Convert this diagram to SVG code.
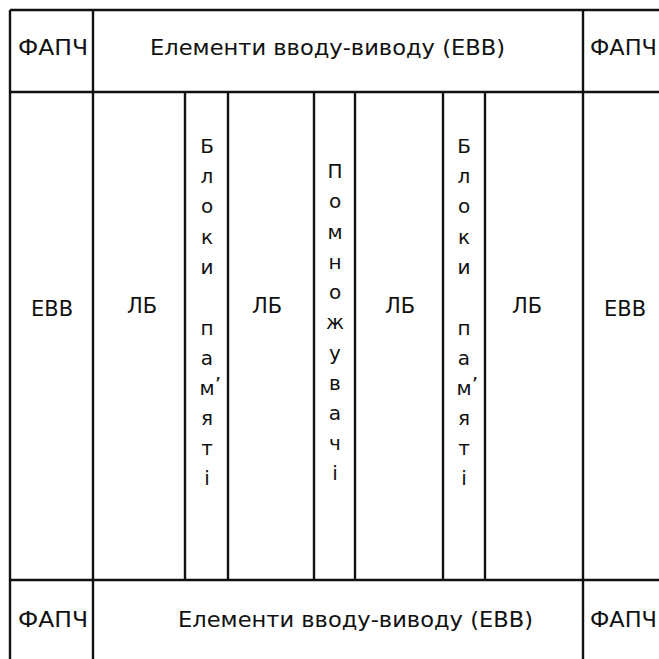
<svg xmlns="http://www.w3.org/2000/svg" width="659" height="659" viewBox="0 0 659 659">
<style>
.ln{stroke:#111;stroke-width:2.4;fill:none}
.t{font-family:"DejaVu Sans","Liberation Sans",sans-serif;font-size:21px;fill:#111}
.v{font-family:"DejaVu Sans","Liberation Sans",sans-serif;font-size:20px;fill:#111;text-anchor:middle}
.m{text-anchor:middle}
</style>
<rect width="659" height="659" fill="#fff"/>
<g id="connectors">
<line class="ln" x1="10" y1="10" x2="659" y2="10"/>
<line class="ln" x1="10" y1="10" x2="10" y2="659"/>
<line class="ln" x1="93" y1="10" x2="93" y2="659"/>
<line class="ln" x1="583" y1="10" x2="583" y2="659"/>
<line class="ln" x1="10" y1="92" x2="659" y2="92"/>
<line class="ln" x1="10" y1="580" x2="659" y2="580"/>
<line class="ln" x1="185" y1="92" x2="185" y2="580"/>
<line class="ln" x1="228" y1="92" x2="228" y2="580"/>
<line class="ln" x1="314" y1="92" x2="314" y2="580"/>
<line class="ln" x1="355" y1="92" x2="355" y2="580"/>
<line class="ln" x1="443" y1="92" x2="443" y2="580"/>
<line class="ln" x1="485" y1="92" x2="485" y2="580"/>
</g>
<g id="fapch-tl"><text class="t" x="18" y="55" textLength="70" lengthAdjust="spacingAndGlyphs">ФАПЧ</text></g>
<g id="evv-top"><text class="t" x="150" y="55" textLength="355" lengthAdjust="spacingAndGlyphs">Елементи вводу-виводу (ЕВВ)</text></g>
<g id="fapch-tr"><text class="t" x="590" y="55" textLength="67" lengthAdjust="spacingAndGlyphs">ФАПЧ</text></g>
<g id="fapch-bl"><text class="t" x="18" y="627" textLength="70" lengthAdjust="spacingAndGlyphs">ФАПЧ</text></g>
<g id="evv-bottom"><text class="t" x="178" y="627" textLength="355" lengthAdjust="spacingAndGlyphs">Елементи вводу-виводу (ЕВВ)</text></g>
<g id="fapch-br"><text class="t" x="590" y="627" textLength="67" lengthAdjust="spacingAndGlyphs">ФАПЧ</text></g>
<g id="evv-left"><text class="t m" x="52" y="316">ЕВВ</text></g>
<g id="lb-1"><text class="t m" x="142" y="313">ЛБ</text></g>
<g id="mem-1"><text class="v"><tspan x="207" y="153">Б</tspan><tspan x="207" y="183">л</tspan><tspan x="207" y="213">о</tspan><tspan x="207" y="244">к</tspan><tspan x="207" y="274">и</tspan><tspan x="207" y="335">п</tspan><tspan x="207" y="365">а</tspan><tspan x="207" y="395">м</tspan><tspan x="207" y="425">я</tspan><tspan x="207" y="455">т</tspan><tspan x="207" y="485">і</tspan></text><text class="v" x="218" y="391">’</text></g>
<g id="lb-2"><text class="t m" x="267" y="313">ЛБ</text></g>
<g id="mult"><text class="v"><tspan x="335" y="178">П</tspan><tspan x="335" y="208">о</tspan><tspan x="335" y="239">м</tspan><tspan x="335" y="269">н</tspan><tspan x="335" y="299">о</tspan><tspan x="335" y="329">ж</tspan><tspan x="335" y="360">у</tspan><tspan x="335" y="390">в</tspan><tspan x="335" y="420">а</tspan><tspan x="335" y="450">ч</tspan><tspan x="335" y="480">і</tspan></text></g>
<g id="lb-3"><text class="t m" x="400" y="313">ЛБ</text></g>
<g id="mem-2"><text class="v"><tspan x="464" y="153">Б</tspan><tspan x="464" y="183">л</tspan><tspan x="464" y="213">о</tspan><tspan x="464" y="244">к</tspan><tspan x="464" y="274">и</tspan><tspan x="464" y="335">п</tspan><tspan x="464" y="365">а</tspan><tspan x="464" y="395">м</tspan><tspan x="464" y="425">я</tspan><tspan x="464" y="455">т</tspan><tspan x="464" y="485">і</tspan></text><text class="v" x="475" y="391">’</text></g>
<g id="lb-4"><text class="t m" x="527" y="313">ЛБ</text></g>
<g id="evv-right"><text class="t m" x="625" y="316">ЕВВ</text></g>
</svg>
